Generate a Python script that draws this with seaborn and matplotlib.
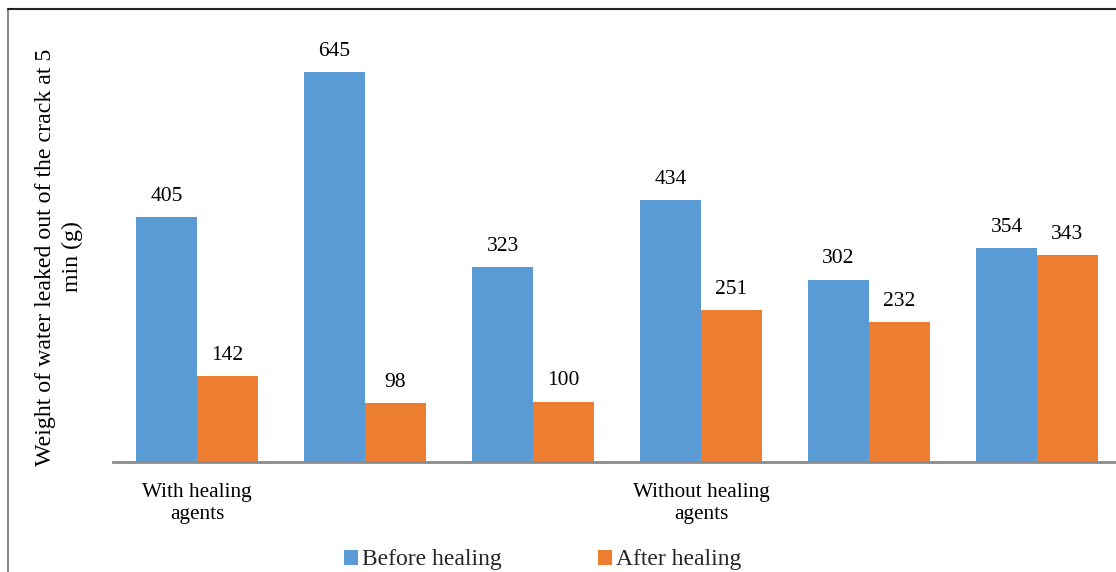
import matplotlib
matplotlib.use("Agg")
import matplotlib.pyplot as plt
from matplotlib.lines import Line2D
from matplotlib.patches import Patch
import seaborn as sns
import pandas as pd

# Leakage measurements, six specimens
specimens = ["S1", "S2", "S3", "S4", "S5", "S6"]
tick_labels = ["With healing\nagents", "", "", "Without healing\nagents", "", ""]
before_healing = [405, 645, 323, 434, 302, 354]
after_healing = [142, 98, 100, 251, 232, 343]
series_names = ["Before healing", "After healing"]
colors = ["#5B9BD5", "#ED7D31"]

df = pd.DataFrame({
    "specimen": specimens * 2,
    "weight": before_healing + after_healing,
    "stage": [series_names[0]] * len(specimens) + [series_names[1]] * len(specimens),
})

sns.set_theme(style="white")
plt.rcParams["font.family"] = ["Liberation Serif", "DejaVu Serif"]

W, H = 1116, 572
fig = plt.figure(figsize=(W / 100, H / 100), dpi=100)

# plot area in pixel coordinates (baseline at y=462)
x0, x1 = 113, 1121
y_base, y_top = 462, 39
ax = fig.add_axes([x0 / W, 1 - y_base / H, (x1 - x0) / W, (y_base - y_top) / H])

sns.barplot(data=df, x="specimen", y="weight", hue="stage", order=specimens,
            hue_order=series_names, palette=colors, width=0.726, gap=0,
            saturation=1, edgecolor="none", linewidth=0, legend=False, ax=ax)

ax.set_ylim(0, 700)
ax.set_xlim(-0.5, len(specimens) - 0.5)
for c in ax.containers:
    ax.bar_label(c, fmt="%d", padding=8, fontsize=15.5, color="#000000")

ax.set_yticks([])
ax.set_xticks(range(len(specimens)))
ax.set_xticklabels(tick_labels, fontsize=15.3, color="#000000", linespacing=1.2)
ax.tick_params(axis="x", length=0, pad=15)
ax.set_xlabel("")
ax.set_ylabel("")
for s in ["top", "right", "left"]:
    ax.spines[s].set_visible(False)
ax.spines["bottom"].set_color("#8C8C8C")
ax.spines["bottom"].set_linewidth(2)

fig.text(59 / W, 1 - 257 / H,
         "Weight of water leaked out of the crack at 5\nmin (g)",
         rotation=90, ha="center", va="center", multialignment="center",
         fontsize=17.2, color="#000000", linespacing=1.4)

# outer frame (left and top edges)
fig.add_artist(Line2D([8 / W, 8 / W], [0, 1 - 9 / H], color="#8C8C8C", lw=1.5,
                      transform=fig.transFigure))
fig.add_artist(Line2D([8 / W, 1], [1 - 9 / H, 1 - 9 / H], color="#222222", lw=1.5,
                      transform=fig.transFigure))

handles = [Patch(facecolor=c, edgecolor="none") for c in colors]
fig.legend(handles, series_names, loc="center left",
           bbox_to_anchor=(344 / W, 1 - 560 / H), ncol=2, frameon=False,
           fontsize=17, handlelength=0.6, handleheight=0.6, handletextpad=0.15,
           columnspacing=4.1, borderaxespad=0, borderpad=0)

fig.savefig("out.png", dpi=100)
